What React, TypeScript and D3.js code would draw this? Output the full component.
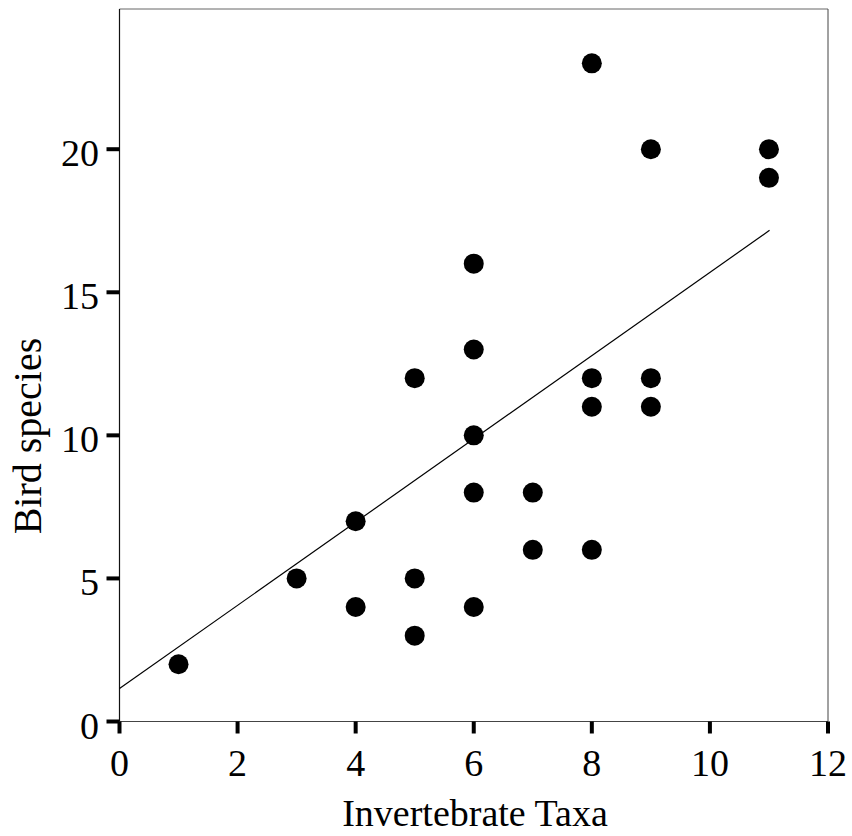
import React from "react";
import * as d3 from "d3";

const invertebrateTaxa = [1, 3, 4, 4, 5, 5, 5, 6, 6, 6, 6, 6, 7, 7, 8, 8, 8, 8, 9, 9, 9, 11, 11];
const birdSpecies = [2, 5, 7, 4, 12, 5, 3, 16, 13, 10, 8, 4, 8, 6, 23, 12, 11, 6, 20, 12, 11, 20, 19];
const xTicks = [0, 2, 4, 6, 8, 10, 12];
const yTicks = [0, 5, 10, 15, 20];
const fitIntercept = 1.15;
const fitSlope = 1.4545;
const fitRange = [0, 11.01];

export default function App() {
  const W = 852, H = 836;
  const x = d3.scaleLinear().domain([0, 12]).range([119.5, 828]);
  const y = d3.scaleLinear().domain([0, 24.9]).range([721.5, 9]);
  const font = "'Liberation Serif', 'Times New Roman', serif";
  const line = d3.line<number>().x((d) => x(d)).y((d) => y(fitIntercept + fitSlope * d));
  return (
    <svg width={W} height={H} style={{ position: "absolute", left: 0, top: 0, background: "#fff" }}>
      {/* frame */}
      <line x1={x(0)} x2={x(12)} y1={y(24.9)} y2={y(24.9)} stroke="#666" strokeWidth={1} />
      <line x1={x(12)} x2={x(12)} y1={y(24.9)} y2={y(0)} stroke="#444" strokeWidth={1} />
      <line x1={x(0)} x2={x(12)} y1={y(0)} y2={y(0)} stroke="#444" strokeWidth={1.2} />
      <line x1={x(0)} x2={x(0)} y1={y(24.9)} y2={y(0)} stroke="#111" strokeWidth={1.2} />
      {/* x ticks */}
      {xTicks.map((t) => (
        <g key={"x" + t}>
          <line x1={x(t)} x2={x(t)} y1={y(0)} y2={y(0) + 12} stroke="#000" strokeWidth={4} />
          <text x={x(t)} y={776} textAnchor="middle" fontFamily={font} fontSize={38} fill="#000">{t}</text>
        </g>
      ))}
      {/* y ticks */}
      {yTicks.map((t) => (
        <g key={"y" + t}>
          <line x1={x(0) - 13} x2={x(0)} y1={y(t)} y2={y(t)} stroke="#000" strokeWidth={4} />
          <text x={99} y={y(t) + 17} textAnchor="end" fontFamily={font} fontSize={38} fill="#000">{t}</text>
        </g>
      ))}
      {/* regression line */}
      <path d={line(fitRange) || ""} fill="none" stroke="#000" strokeWidth={1.2} />
      {/* points */}
      {invertebrateTaxa.map((v, i) => (
        <circle key={i} cx={x(v)} cy={y(birdSpecies[i])} r={10} fill="#000" />
      ))}
      {/* axis titles */}
      <text x={475} y={826} textAnchor="middle" fontFamily={font} fontSize={38} fill="#000">Invertebrate Taxa</text>
      <text transform={`translate(41, 436) rotate(-90)`} textAnchor="middle" fontFamily={font} fontSize={40} fill="#000">Bird species</text>
    </svg>
  );
}
